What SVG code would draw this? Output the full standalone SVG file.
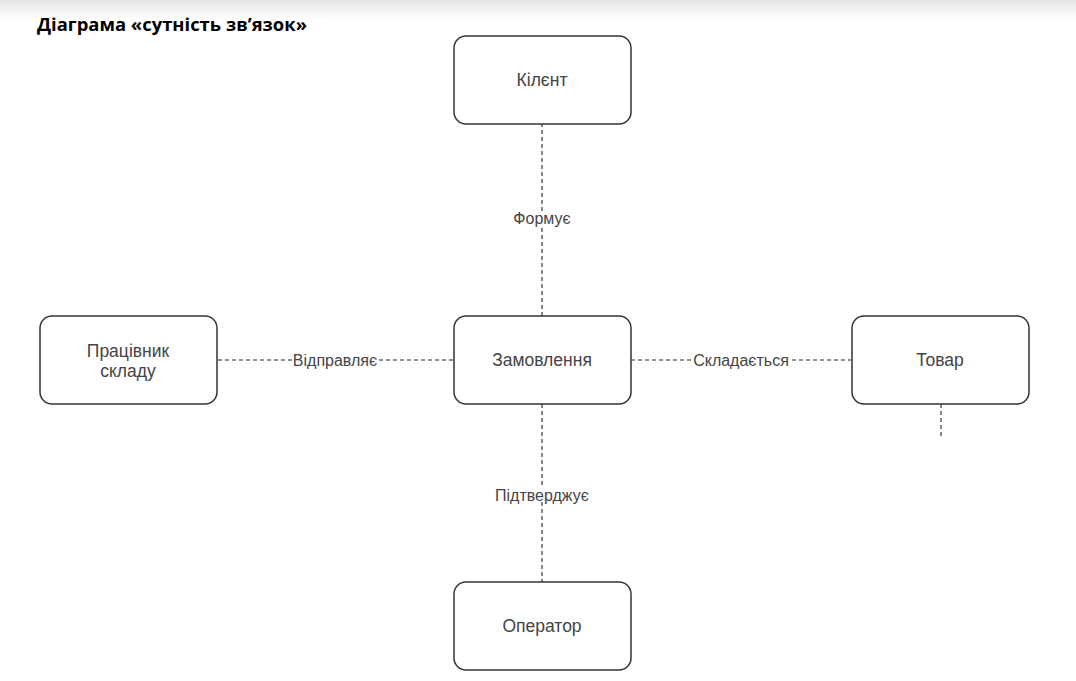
<svg xmlns="http://www.w3.org/2000/svg" width="1076" height="681" viewBox="0 0 1076 681">
<defs>
<linearGradient id="topg" x1="0" y1="0" x2="0" y2="1">
<stop offset="0" stop-color="#e6e6e6"/>
<stop offset="1" stop-color="#ffffff"/>
</linearGradient>
</defs>
<style>
.box{fill:#fff;stroke:#333;stroke-width:1.5}
.lbl{font-family:"Liberation Sans",Arial,sans-serif;font-size:16px;fill:#444;text-anchor:middle}
.nt{font-family:"Liberation Sans",Arial,sans-serif;font-size:17.5px;fill:#444;text-anchor:middle}
.edge{stroke:#222;stroke-width:1.1;stroke-dasharray:4 3;fill:none}
.bg{fill:#fff}
</style>
<rect x="0" y="0" width="1076" height="20" fill="url(#topg)"/>
<text x="37" y="31" font-family="'Open Sans','Noto Sans',sans-serif" font-weight="bold" font-size="17" fill="#000" textLength="270" lengthAdjust="spacingAndGlyphs">Діаграма «сутність зв’язок»</text>
<g id="connectors">
<line class="edge" x1="542" y1="123" x2="542" y2="316"/>
<line class="edge" x1="542" y1="404" x2="542" y2="582"/>
<line class="edge" x1="218" y1="360" x2="454" y2="360"/>
<line class="edge" x1="631" y1="360" x2="851" y2="360"/>
<line class="edge" x1="941" y1="404" x2="941" y2="437"/>
<rect class="bg" x="499" y="211" width="86" height="14"/>
<text class="lbl" x="542" y="224">Формує</text>
<rect class="bg" x="292" y="353" width="86" height="14"/>
<text class="lbl" x="335" y="366">Відправляє</text>
<rect class="bg" x="692" y="353" width="98" height="14"/>
<text class="lbl" x="741" y="366">Складається</text>
<rect class="bg" x="489" y="488" width="106" height="14"/>
<text class="lbl" x="542" y="501">Підтверджує</text>
</g>
<g id="client">
<rect class="box" x="454" y="36" width="177" height="88" rx="12"/>
<text class="nt" x="542" y="86">Кілєнт</text>
</g>
<g id="order">
<rect class="box" x="454" y="316" width="177" height="88" rx="12"/>
<text class="nt" x="542" y="366">Замовлення</text>
</g>
<g id="worker">
<rect class="box" x="40" y="316" width="177" height="88" rx="12"/>
<text class="nt" x="128" y="357">Працівник</text>
<text class="nt" x="128" y="377">складу</text>
</g>
<g id="product">
<rect class="box" x="852" y="316" width="177" height="88" rx="12"/>
<text class="nt" x="940" y="366">Товар</text>
</g>
<g id="operator">
<rect class="box" x="454" y="582" width="177" height="88" rx="12"/>
<text class="nt" x="542" y="632">Оператор</text>
</g>
</svg>
